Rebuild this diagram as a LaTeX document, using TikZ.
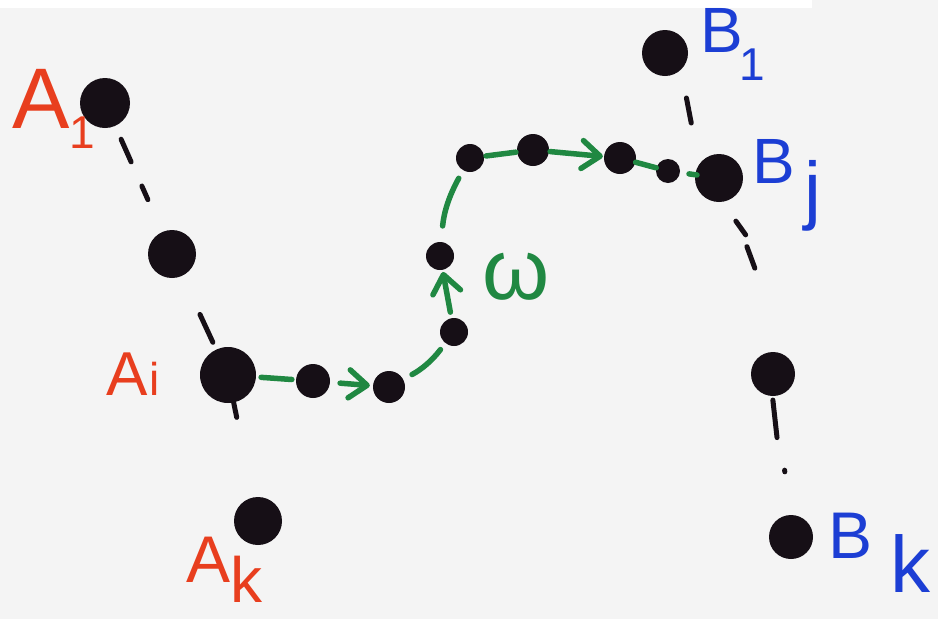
\documentclass[tikz,border=0pt]{standalone}
\usepackage{fontspec}
\setmainfont{Liberation Sans}
\usetikzlibrary{arrows.meta,calc}

\definecolor{paper}{RGB}{244,244,244}
\definecolor{ink}{RGB}{22,15,22}
\definecolor{redink}{RGB}{232,62,30}
\definecolor{blueink}{RGB}{28,62,212}
\definecolor{greenink}{RGB}{32,136,66}

\tikzset{
  dot/.style={circle, fill=ink, draw=none, inner sep=0pt, minimum size=#1},
  dash line/.style={ink, line width=5pt, line cap=round},
  walk/.style={greenink, line width=5.5pt, line cap=round},
  walkarrow/.style={walk, -{Straight Barb[length=18pt,width=28pt,line cap=round,line join=round]}},
  redlbl/.style={text=redink, inner sep=0pt, anchor=base west},
  bluelbl/.style={text=blueink, inner sep=0pt, anchor=base west},
}

\begin{document}
\begin{tikzpicture}[x=1pt, y=-1pt]
  % paper
  \fill[paper] (0,0) rectangle (938,619);
  \fill[white] (0,0) rectangle (812,8);
  \useasboundingbox (0,0) rectangle (938,619);

  % vertices of the left column
  \node[dot=50pt] (A1) at (105,103) {};
  \node[dot=48pt] (A2) at (172,254) {};
  \node[dot=56pt] (Ai) at (228,375) {};
  \node[dot=48pt] (Ak) at (258,521) {};

  % vertices of the right column
  \node[dot=46pt] (B1) at (665,53) {};
  \node[dot=48pt] (Bj) at (719,178) {};
  \node[dot=44pt] (R)  at (773,374) {};
  \node[dot=44pt] (Bk) at (791,537) {};

  % vertices along the walk
  \node[dot=34pt] (p1) at (313,381) {};
  \node[dot=32pt] (p2) at (389,387) {};
  \node[dot=28pt] (p3) at (454,332) {};
  \node[dot=28pt] (p4) at (440,256) {};
  \node[dot=28pt] (p5) at (470,158) {};
  \node[dot=32pt] (p6) at (533,150) {};
  \node[dot=32pt] (p7) at (620,158) {};
  \node[dot=24pt] (p8) at (668,171) {};

  % dotted continuations of the columns
  \draw[dash line] ($(A1)!0.24!(A2)$) -- ($(A1)!0.39!(A2)$);
  \draw[dash line] ($(A1)!0.55!(A2)$) -- ($(A1)!0.64!(A2)$);
  \draw[dash line] ($(A2)!0.50!(Ai)$) -- ($(A2)!0.73!(Ai)$);
  \draw[dash line] ($(Ai)!0.17!(Ak)$) -- ($(Ai)!0.29!(Ak)$);
  \draw[dash line] ($(B1)!0.36!(Bj)+(2,0)$) -- ($(B1)!0.56!(Bj)+(-4,0)$);
  \draw[dash line] ($(Bj)!0.22!(R)+(5,0)$) -- ($(Bj)!0.29!(R)+(11,0)$);
  \draw[dash line] ($(Bj)!0.35!(R)+(9,0)$) -- ($(Bj)!0.46!(R)+(11,0)$);
  \draw[dash line] ($(R)!0.16!(Bk)+(-3,0)$) -- ($(R)!0.39!(Bk)+(-3,0)$);
  \draw[dash line] ($(R)!0.59!(Bk)+(1,0)$) -- ($(R)!0.60!(Bk)+(1,0)$);

  % the walk from A_i to B_j
  \draw[walk, shorten <=5pt, shorten >=4pt] (Ai) -- (p1);
  \draw[walkarrow, shorten <=10pt, shorten >=3pt] (p1) -- (p2);
  \draw[walk, shorten <=10pt, shorten >=8pt] (p2) to[bend right=12] (p3);
  \draw[walkarrow, shorten <=6pt, shorten >=2pt] (p3) -- (p4);
  \draw[walk, shorten <=16pt, shorten >=9pt] (p4) to[bend left=12] (p5);
  \draw[walk, shorten <=2pt, shorten >=1pt] (p5) -- (p6);
  \draw[walkarrow, shorten <=1pt, shorten >=1pt] (p6) -- (p7);
  \draw[walk] (p7) -- (p8);
  \draw[walk, shorten <=9pt, shorten >=-2pt] (p8) -- (Bj);

  % labels
  \node[redlbl] (A1lbl) at (12,128)
    {\fontsize{86}{86}\selectfont A\kern0pt\raisebox{-20pt}{\fontsize{46}{46}\selectfont 1}};
  \node[redlbl] (Ailbl) at (106,395)
    {\fontsize{62}{62}\selectfont A\kern2pt{\fontsize{46}{46}\selectfont i}};
  \node[redlbl] (Aklbl) at (186,582)
    {\fontsize{66}{66}\selectfont A\kern0pt\raisebox{-20pt}{\fontsize{64}{64}\selectfont k}};

  \node[bluelbl] (B1lbl) at (700,52)
    {\fontsize{64}{64}\selectfont B\kern-3pt\raisebox{-28pt}{\fontsize{46}{46}\selectfont 1}};
  \node[bluelbl] (Bjlbl) at (752,183)
    {\fontsize{64}{64}\selectfont B\kern10pt\raisebox{-32pt}{\fontsize{76}{76}\selectfont j}};
  \node[bluelbl] (Bklbl) at (828,558)
    {\fontsize{66}{66}\selectfont B\kern18pt\raisebox{-34pt}{\fontsize{80}{80}\selectfont k}};

  \node[text=greenink, inner sep=0pt] (wlbl) at (516,277)
    {\fontsize{86}{86}\selectfont ω};
\end{tikzpicture}
\end{document}
